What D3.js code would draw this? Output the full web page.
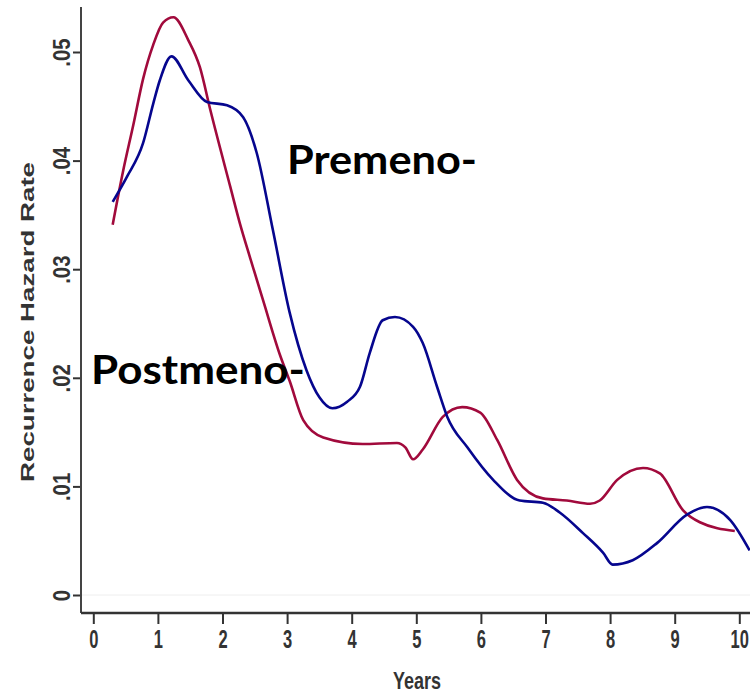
<!DOCTYPE html>
<html>
    <head>
        <script src="https://d3js.org/d3.v7.min.js"></script>
        <style>
            body { margin: 0; background: #fff; }
        </style>
    </head>
    <body>
        <svg height='695' width='750'></svg>

        <script>
            const svg = d3.select('svg');

            // data
            const xTicks = [0, 1, 2, 3, 4, 5, 6, 7, 8, 9, 10];
            const yTicks = [0, 0.01, 0.02, 0.03, 0.04, 0.05];
            const yTickLabels = ['0', '.01', '.02', '.03', '.04', '.05'];

            const postYears = [0.3, 0.46, 0.62, 0.77, 0.93, 1.08, 1.24, 1.47, 1.65, 1.81, 2.12, 2.27, 2.43, 2.63, 2.89, 3.04, 3.25, 3.56, 4.17, 4.7, 4.83, 4.95, 5.1, 5.41, 5.71, 5.99, 6.25, 6.56, 6.96, 7.33, 7.69, 7.84, 8.11, 8.51, 8.77, 9.13, 9.39, 9.93];
            const postRate = [0.0341, 0.0390, 0.0433, 0.0475, 0.0507, 0.0527, 0.0532, 0.0511, 0.0486, 0.0447, 0.0376, 0.0342, 0.0310, 0.0271, 0.0221, 0.0197, 0.0161, 0.0145, 0.0139, 0.0140, 0.0136, 0.0125, 0.0134, 0.0164, 0.0173, 0.0168, 0.0143, 0.0106, 0.0089, 0.0087, 0.0084, 0.0087, 0.0106, 0.0117, 0.0112, 0.0078, 0.0067, 0.0059];

            const preYears = [0.3, 0.52, 0.77, 0.93, 1.03, 1.21, 1.47, 1.76, 2.07, 2.32, 2.53, 2.78, 3.04, 3.3, 3.5, 3.7, 3.93, 4.13, 4.28, 4.48, 4.67, 4.95, 5.1, 5.32, 5.48, 5.79, 6.19, 6.6, 6.96, 7.22, 7.58, 7.89, 8.04, 8.35, 8.73, 9.19, 9.5, 9.86, 10.16];
            const preRate = [0.0362, 0.0385, 0.0416, 0.0453, 0.0474, 0.0496, 0.0474, 0.0454, 0.0451, 0.0440, 0.0407, 0.0336, 0.0260, 0.0207, 0.0182, 0.0172, 0.0178, 0.0192, 0.0223, 0.0253, 0.0256, 0.0247, 0.0232, 0.0192, 0.0164, 0.0136, 0.0106, 0.0087, 0.0085, 0.0076, 0.0057, 0.0039, 0.0028, 0.0032, 0.0048, 0.0074, 0.0081, 0.0069, 0.0041];

            const plotLeft = 81, plotBottom = 613, plotTop = 7, plotRight = 750;

            const x = d3.scaleLinear().domain([0, 10]).range([93.3, 739.3]);
            const y = d3.scaleLinear().domain([0, 0.05]).range([595, 52]);

            const tickFont = '"Liberation Sans", Arial, sans-serif';

            // faint baseline at zero
            svg.append('line')
                .attr('x1', plotLeft).attr('x2', plotRight)
                .attr('y1', y(0)).attr('y2', y(0))
                .attr('stroke', '#eeeeee').attr('stroke-width', 1);

            // x axis
            const xAxis = svg.append('g')
                .attr('transform', `translate(0,${plotBottom})`)
                .call(d3.axisBottom(x).tickValues(xTicks).tickSize(11).tickPadding(6).tickFormat(d3.format('d')));
            xAxis.select('.domain').remove();
            xAxis.selectAll('line').attr('stroke', '#333').attr('stroke-width', 2);
            xAxis.selectAll('text')
                .attr('font-family', tickFont)
                .attr('font-size', 25)
                .attr('font-weight', 'bold')
                .attr('fill', '#333')
                .attr('transform', 'scale(0.66,1)');

            // y axis
            const yAxis = svg.append('g')
                .attr('transform', `translate(${plotLeft},0)`)
                .call(d3.axisLeft(y).tickValues(yTicks).tickSize(8).tickFormat((d, i) => yTickLabels[i]));
            yAxis.select('.domain').remove();
            yAxis.selectAll('line').attr('stroke', '#333').attr('stroke-width', 2);
            yAxis.selectAll('text')
                .attr('font-family', tickFont)
                .attr('font-size', 24)
                .attr('font-weight', 'bold')
                .attr('fill', '#333')
                .attr('text-anchor', 'middle')
                .attr('x', 0).attr('dy', 0)
                .attr('transform', 'translate(-19,0) rotate(-90) scale(0.85,1)')
                .attr('dominant-baseline', 'central');

            // frame lines
            svg.append('line')
                .attr('x1', plotLeft).attr('x2', plotLeft).attr('y1', plotTop).attr('y2', plotBottom)
                .attr('stroke', '#444').attr('stroke-width', 2);
            svg.append('line')
                .attr('x1', plotLeft).attr('x2', plotRight).attr('y1', plotBottom).attr('y2', plotBottom)
                .attr('stroke', '#333').attr('stroke-width', 2.5);

            // axis titles
            svg.append('text')
                .attr('transform', 'translate(34,322) rotate(-90)')
                .attr('text-anchor', 'middle')
                .attr('font-family', '"Liberation Sans", Arial, sans-serif')
                .attr('font-weight', 'bold')
                .attr('font-size', 18)
                .attr('fill', '#333')
                .attr('textLength', 320)
                .attr('lengthAdjust', 'spacingAndGlyphs')
                .text('Recurrence Hazard Rate');

            svg.append('text')
                .attr('x', 393).attr('y', 689)
                .attr('font-family', tickFont)
                .attr('font-weight', 'bold')
                .attr('font-size', 24)
                .attr('fill', '#333')
                .attr('textLength', 48)
                .attr('lengthAdjust', 'spacingAndGlyphs')
                .text('Years');

            // curves
            const line = d3.line()
                .x(d => x(d[0]))
                .y(d => y(d[1]))
                .curve(d3.curveMonotoneX);

            const series = [
                { name: 'Postmeno', pts: d3.zip(postYears, postRate), color: '#a10a3c' },
                { name: 'Premeno', pts: d3.zip(preYears, preRate), color: '#06068e' }
            ];

            svg.selectAll('path.series')
                .data(series)
                .enter().append('path')
                .attr('class', 'series')
                .attr('d', d => line(d.pts))
                .attr('fill', 'none')
                .attr('stroke', d => d.color)
                .attr('stroke-width', 2.6);

            // labels
            svg.append('text')
                .attr('x', 287).attr('y', 174)
                .attr('font-family', 'Lato, "Open Sans", sans-serif')
                .attr('font-weight', 'bold')
                .attr('font-size', 40)
                .attr('fill', '#000')
                .attr('textLength', 190)
                .attr('lengthAdjust', 'spacingAndGlyphs')
                .text('Premeno-');

            svg.append('text')
                .attr('x', 91).attr('y', 384)
                .attr('font-family', 'Lato, "Open Sans", sans-serif')
                .attr('font-weight', 'bold')
                .attr('font-size', 40)
                .attr('fill', '#000')
                .attr('textLength', 214)
                .attr('lengthAdjust', 'spacingAndGlyphs')
                .text('Postmeno-');
        </script>
    </body>
</html>
